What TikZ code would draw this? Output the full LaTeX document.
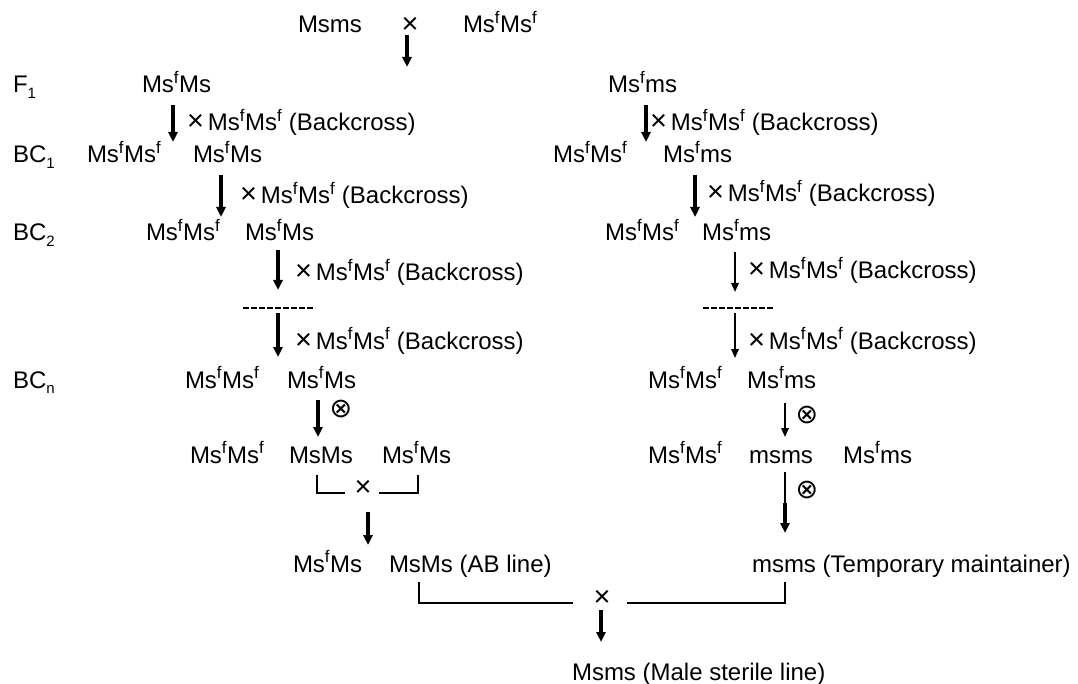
\documentclass[tikz,border=0pt]{standalone}
\usepackage{fontspec}
\setmainfont{Liberation Sans}
\newfontfamily\djv{DejaVu Sans}
\usetikzlibrary{arrows.meta}
\newcommand{\supf}{\textsuperscript{f}}
\newcommand{\tms}{{\fontsize{29}{29}\selectfont ×}}
\newcommand{\subsc}[1]{\raisebox{-0.45ex}{\fontsize{15}{16}\selectfont #1}}
\tikzset{
  txt/.style={anchor=base west, inner sep=0pt, outer sep=0pt, font=\fontsize{24}{28}\selectfont},
  crs/.style={anchor=center, inner sep=0pt, font=\fontsize{29}{30}\selectfont},
  selfsym/.style={anchor=center, inner sep=0pt, font=\djv\fontsize{27}{28}\selectfont},
  thickarrow/.style={line width=3.2pt, -{Triangle[length=10pt,width=9pt]}},
  thinarrow/.style={line width=1.5pt, -{Triangle[length=9pt,width=7.5pt]}},
  bracket/.style={line width=1.5pt},
  dashrow/.style={line width=1.2pt, dash pattern=on 5.5pt off 2.5pt}
}
\begin{document}
\begin{tikzpicture}[x=1pt,y=-1pt]
\useasboundingbox (0,0) rectangle (1078,684);
% row 0
\node[txt] (p1) at (298,33) {Msms};
\node[crs] (x0) at (410,25) {×};
\node[txt] (p2) at (463,33) {Ms\supf Ms\supf};
\coordinate (a0s) at (407,35); \coordinate (a0e) at (407,67);
\draw[thickarrow] (a0s) -- (a0e);
% row 1
\node[txt] (gF1) at (13,93) {F\subsc{1}};
\node[txt] (L1) at (142,93) {Ms\supf Ms};
\node[txt] (R1) at (608,93) {Ms\supf ms};
\coordinate (aL1s) at (173,105); \coordinate (aL1e) at (173,142);
\draw[thickarrow] (aL1s) -- (aL1e);
\node[txt] (lL1) at (187,131) {\tms\,Ms\supf Ms\supf{} (Backcross)};
\coordinate (aR1s) at (646,105); \coordinate (aR1e) at (646,142);
\draw[thickarrow] (aR1s) -- (aR1e);
\node[txt] (lR1) at (650,131) {\tms\,Ms\supf Ms\supf{} (Backcross)};
% row 2
\node[txt] (gBC1) at (13,163) {BC\subsc{1}};
\node[txt] (L2a) at (87,163) {Ms\supf Ms\supf};
\node[txt] (L2b) at (193,163) {Ms\supf Ms};
\node[txt] (R2a) at (553,163) {Ms\supf Ms\supf};
\node[txt] (R2b) at (663,163) {Ms\supf ms};
\coordinate (aL2s) at (221,175); \coordinate (aL2e) at (221,217);
\draw[thickarrow] (aL2s) -- (aL2e);
\node[txt] (lL2) at (240,204) {\tms\,Ms\supf Ms\supf{} (Backcross)};
\coordinate (aR2s) at (695,175); \coordinate (aR2e) at (695,217);
\draw[thickarrow] (aR2s) -- (aR2e);
\node[txt] (lR2) at (707,202) {\tms\,Ms\supf Ms\supf{} (Backcross)};
% row 3
\node[txt] (gBC2) at (13,241) {BC\subsc{2}};
\node[txt] (L3a) at (146,241) {Ms\supf Ms\supf};
\node[txt] (L3b) at (245,241) {Ms\supf Ms};
\node[txt] (R3a) at (605,241) {Ms\supf Ms\supf};
\node[txt] (R3b) at (702,241) {Ms\supf ms};
\coordinate (aL3s) at (278,250); \coordinate (aL3e) at (278,290);
\draw[thickarrow] (aL3s) -- (aL3e);
\node[txt] (lL3) at (295,281) {\tms\,Ms\supf Ms\supf{} (Backcross)};
\coordinate (aR3s) at (735,252); \coordinate (aR3e) at (735,292);
\draw[thinarrow] (aR3s) -- (aR3e);
\node[txt] (lR3) at (748,279) {\tms\,Ms\supf Ms\supf{} (Backcross)};
% dashes
\coordinate (dLs) at (243,308); \coordinate (dLe) at (315,308);
\draw[dashrow] (dLs) -- (dLe);
\coordinate (dRs) at (703,308); \coordinate (dRe) at (773,308);
\draw[dashrow] (dRs) -- (dRe);
\coordinate (aL4s) at (278,313); \coordinate (aL4e) at (278,357);
\draw[thickarrow] (aL4s) -- (aL4e);
\node[txt] (lL4) at (295,349) {\tms\,Ms\supf Ms\supf{} (Backcross)};
\coordinate (aR4s) at (735,313); \coordinate (aR4e) at (735,358);
\draw[thinarrow] (aR4s) -- (aR4e);
\node[txt] (lR4) at (748,349) {\tms\,Ms\supf Ms\supf{} (Backcross)};
% row BCn
\node[txt] (gBCn) at (13,388) {BC\subsc{n}};
\node[txt] (L4a) at (185,388) {Ms\supf Ms\supf};
\node[txt] (L4b) at (287,388) {Ms\supf Ms};
\node[txt] (R4a) at (648,388) {Ms\supf Ms\supf};
\node[txt] (R4b) at (747,388) {Ms\supf ms};
\coordinate (aL5s) at (318,400); \coordinate (aL5e) at (318,437);
\draw[thickarrow] (aL5s) -- (aL5e);
\node[selfsym] (sL5) at (341,409) {⊗};
\coordinate (aR5s) at (785,403); \coordinate (aR5e) at (785,437);
\draw[thinarrow] (aR5s) -- (aR5e);
\node[selfsym] (sR5) at (807,415) {⊗};
% row 6
\node[txt] (L6a) at (190,463) {Ms\supf Ms\supf};
\node[txt] (L6b) at (289,463) {MsMs};
\node[txt] (L6c) at (382,463) {Ms\supf Ms};
\node[txt] (R6a) at (648,463) {Ms\supf Ms\supf};
\node[txt] (R6b) at (749,463) {msms};
\node[txt] (R6c) at (843,463) {Ms\supf ms};
% left bracket
\coordinate (b1a) at (317,475); \coordinate (b1b) at (317,493); \coordinate (b1c) at (345,493);
\coordinate (b1d) at (379,493); \coordinate (b1e) at (418,493); \coordinate (b1f) at (418,475);
\draw[bracket] (b1a) -- (b1b) -- (b1c);
\draw[bracket] (b1d) -- (b1e) -- (b1f);
\node[crs] (x1) at (363,488) {×};
\coordinate (aL6s) at (368,512); \coordinate (aL6e) at (368,545);
\draw[thickarrow] (aL6s) -- (aL6e);
% right self chain
\coordinate (aR6s) at (785,472); \coordinate (aR6m) at (785,505); \coordinate (aR6e) at (785,533);
\draw[line width=1.5pt] (aR6s) -- (aR6m);
\coordinate (aR6m2) at (785,503);
\draw[thickarrow] (aR6m2) -- (aR6e);
\node[selfsym] (sR6) at (807,490) {⊗};
% row 7
\node[txt] (L7a) at (293,572) {Ms\supf Ms};
\node[txt] (L7b) at (389,572) {MsMs (AB line)};
\node[txt] (R7) at (752,572) {msms (Temporary maintainer)};
% bottom bracket
\coordinate (b2a) at (419,582); \coordinate (b2b) at (419,603); \coordinate (b2c) at (573,603);
\coordinate (b2d) at (627,603); \coordinate (b2e) at (785,603); \coordinate (b2f) at (785,582);
\draw[bracket] (b2a) -- (b2b) -- (b2c);
\draw[bracket] (b2d) -- (b2e) -- (b2f);
\node[crs] (x2) at (602,598) {×};
\coordinate (a7s) at (601,610); \coordinate (a7e) at (601,642);
\draw[thickarrow] (a7s) -- (a7e);
% row 8
\node[txt] (F8) at (572,680) {Msms (Male sterile line)};
\end{tikzpicture}
\end{document}
